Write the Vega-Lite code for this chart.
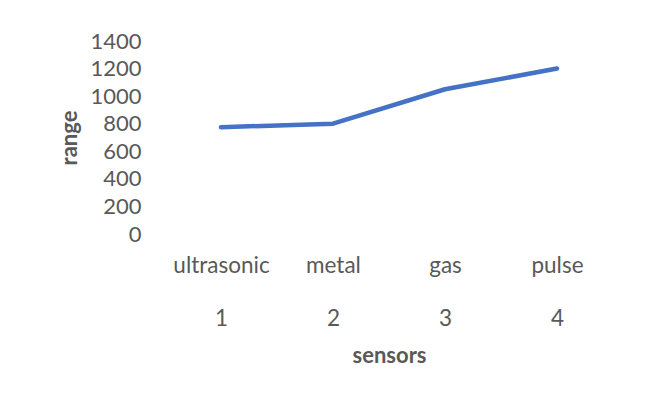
{
  "$schema": "https://vega.github.io/schema/vega-lite/v6.json",
  "width": 448,
  "height": 193,
  "autosize": {"type": "none"},
  "padding": {"left": 165, "top": 41, "right": 33, "bottom": 165},
  "background": "white",
  "config": {
    "view": {"stroke": null},
    "font": "Lato"
  },
  "data": {
    "values": [
      {"n": 1, "sensor": "ultrasonic", "range": 775},
      {"n": 2, "sensor": "metal", "range": 800},
      {"n": 3, "sensor": "gas", "range": 1050},
      {"n": 4, "sensor": "pulse", "range": 1200}
    ]
  },
  "mark": {"type": "line", "color": "#4472C4", "strokeWidth": 4.5, "strokeCap": "round", "strokeJoin": "round"},
  "encoding": {
    "x": {
      "field": "n",
      "type": "ordinal",
      "scale": {"type": "point", "padding": 0.5},
      "axis": {
        "title": "sensors",
        "labelAngle": 0,
        "labelExpr": "[['ultrasonic','metal','gas','pulse'][datum.value - 1], datum.label]",
        "labelLineHeight": 53,
        "labelFontSize": 22.5,
        "labelColor": "#595959",
        "labelPadding": 20,
        "domain": false,
        "ticks": false,
        "titleFontSize": 22,
        "titleFontWeight": "bold",
        "titleColor": "#595959",
        "titlePadding": 16
      }
    },
    "y": {
      "field": "range",
      "type": "quantitative",
      "scale": {"domain": [0, 1400]},
      "axis": {
        "title": "range",
        "format": "d",
        "values": [0, 200, 400, 600, 800, 1000, 1200, 1400],
        "labelFontSize": 22,
        "labelColor": "#595959",
        "labelPadding": 24,
        "domain": false,
        "ticks": false,
        "grid": false,
        "titleFontSize": 22,
        "titleFontWeight": "bold",
        "titleColor": "#595959",
        "titlePadding": 8
      }
    }
  }
}
